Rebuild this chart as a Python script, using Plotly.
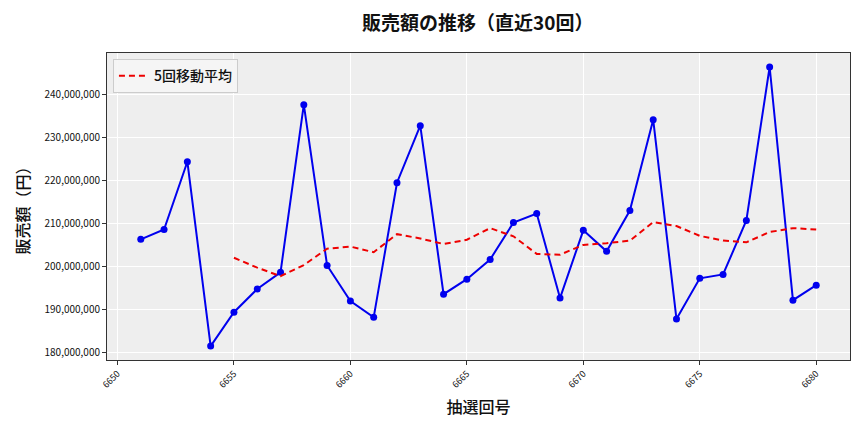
import plotly.graph_objects as go

draws = list(range(6651, 6681))
sales = [206300000, 208600000, 224400000, 181400000, 189300000, 194700000, 198600000,
         237700000, 200200000, 191900000, 188100000, 219500000, 232800000, 193500000,
         197000000, 201600000, 210200000, 212300000, 192600000, 208400000, 203500000,
         213000000, 234200000, 187700000, 197200000, 198100000, 210700000, 246500000,
         192100000, 195600000]
ma_draws = list(range(6655, 6681))
ma5 = [202000000, 199700000, 197700000, 200300000, 204100000, 204600000, 203300000,
       207500000, 206500000, 205200000, 206200000, 208900000, 207000000, 202900000,
       202700000, 205000000, 205400000, 206000000, 210300000, 209400000, 207100000,
       206000000, 205600000, 208000000, 208900000, 208600000]
x_ticks = [6650, 6655, 6660, 6665, 6670, 6675, 6680]
y_ticks = [180000000, 190000000, 200000000, 210000000, 220000000, 230000000, 240000000]

FONT = "Noto Sans CJK JP"

fig = go.Figure()
fig.add_trace(go.Scatter(
    x=draws, y=sales, mode="lines+markers", showlegend=False,
    line=dict(color="#0000EE", width=2), marker=dict(color="#0000EE", size=7),
))
fig.add_trace(go.Scatter(
    x=ma_draws, y=ma5, mode="lines", name="5回移動平均",
    line=dict(color="#EE0000", width=2, dash="6px,4px"),
))

fig.update_layout(
    width=864, height=432,
    margin=dict(l=107, r=14, t=53, b=72),
    paper_bgcolor="white", plot_bgcolor="#EEEEEE",
    font=dict(family=FONT, color="#222"),
    title=dict(text="販売額の推移（直近30回）", x=0.553, xanchor="center", y=0.945, yanchor="middle",
               font=dict(size=19, family=FONT, color="#111", weight="bold")),
    legend=dict(x=0.008, y=0.98, xanchor="left", yanchor="top", itemwidth=30,
                bgcolor="rgba(245,245,245,0.9)", bordercolor="#CCCCCC", borderwidth=1,
                font=dict(size=14, family=FONT, color="#111", weight=500)),
    xaxis=dict(range=[6649.55, 6681.45], tickvals=x_ticks, tickangle=-45,
               tickfont=dict(size=9, family=FONT, color="#111"), showgrid=True, gridcolor="white", gridwidth=1,
               showline=True, linecolor="#333", linewidth=1, mirror=True,
               ticks="outside", ticklen=4, tickcolor="#333", zeroline=False,
               title=dict(text="抽選回号", font=dict(size=16, family=FONT, color="#111", weight=500), standoff=12)),
    yaxis=dict(range=[178150000, 249760000], tickvals=y_ticks, tickformat=",d",
               tickfont=dict(size=10, family=FONT, color="#111"), showgrid=True, gridcolor="white", gridwidth=1,
               showline=True, linecolor="#333", linewidth=1, mirror=True,
               ticks="outside", ticklen=4, tickcolor="#333", zeroline=False,
               title=dict(text="販売額（円）", font=dict(size=16, family=FONT, color="#111", weight=500), standoff=10)),
)

fig.write_html("out.html")
